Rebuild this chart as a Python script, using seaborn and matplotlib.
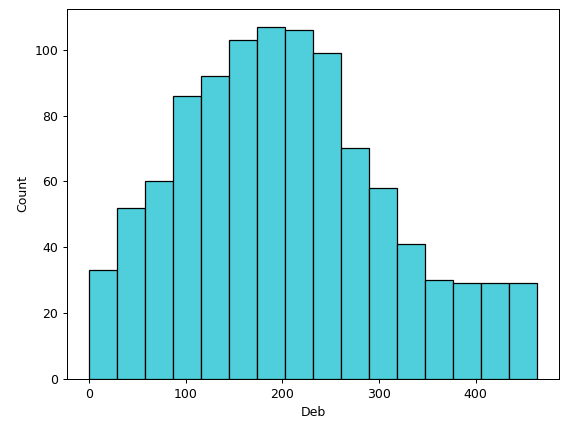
"""Histogram of Deb"""

import matplotlib
matplotlib.use("Agg")
import matplotlib.pyplot as plt
import numpy as np
import pandas as pd
import seaborn as sns

# bin edges and counts
bin_lo = 0
bin_hi = 463
n_bins = 16
counts = [33, 52, 60, 86, 92, 103, 107, 106, 99, 70, 58, 41, 30, 29, 29, 29]

edges = np.linspace(bin_lo, bin_hi, n_bins + 1)
centers = (edges[:-1] + edges[1:]) / 2
df = pd.DataFrame({'Deb': centers, 'n': counts})

fig, ax = plt.subplots(figsize=(571 / 90, 432 / 90), dpi=90)
fig.subplots_adjust(left=0.117, right=0.979, top=0.979, bottom=0.123)

sns.histplot(data=df, x='Deb', weights='n', bins=n_bins, binrange=(bin_lo, bin_hi),
             color='#4ECFDB', alpha=1, edgecolor='black', linewidth=1, ax=ax)
ax.set_ylabel('Count')

plt.savefig('out.png', dpi=90)
